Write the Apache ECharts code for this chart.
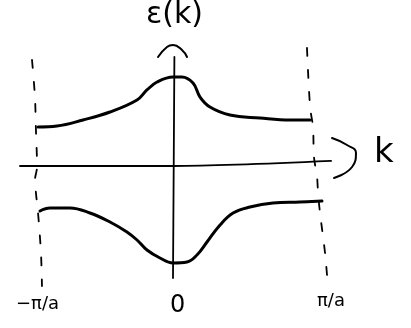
<!DOCTYPE html>
<html>
<head>
<meta charset="utf-8">
<script src="https://cdn.jsdelivr.net/npm/echarts@6/dist/echarts.min.js"></script>
<style>
  html, body { margin: 0; padding: 0; background: #fff; }
  #main { width: 411px; height: 328px; }
</style>
</head>
<body>
<div id="main"></div>
<script>
// band sketch, k in units of pi/a, energy in arbitrary units
var upperK = [-0.964, -0.829, -0.643, -0.45, -0.257, -0.186, -0.114, 0, 0.064, 0.143, 0.193, 0.264, 0.407, 0.621, 0.836, 0.979];
var upperE = [0.424, 0.435, 0.506, 0.60, 0.741, 0.859, 0.953, 1.012, 1.012, 0.941, 0.776, 0.659, 0.565, 0.529, 0.506, 0.506];

var lowerK = [-0.95, -0.879, -0.736, -0.593, -0.45, -0.329, -0.257, -0.186, -0.093, 0, 0.1, 0.171, 0.243, 0.336, 0.429, 0.55, 0.714, 0.907, 1.064];
var lowerE = [-0.565, -0.529, -0.529, -0.588, -0.694, -0.812, -0.906, -1.024, -1.118, -1.176, -1.165, -1.082, -0.929, -0.729, -0.588, -0.518, -0.471, -0.459, -0.447];

// hand drawn axes
var kAxisK = [-1.093, 0, 1.129];
var kAxisE = [-0.035, -0.035, 0.024];
var eAxisK = [0.01, 0];
var eAxisE = [1.247, -1.353];
var eArrowK = [-0.107, -0.043, 0, 0.064, 0.1];
var eArrowE = [1.247, 1.365, 1.388, 1.329, 1.247];
var kArrowK = [1.136, 1.243, 1.307, 1.279, 1.15];
var kArrowE = [0.294, 0.212, 0.118, -0.047, -0.176];

// zone boundaries
var leftBZK = [-1.007, -0.986, -0.979, -0.971, -0.986, -0.979, -0.964, -0.943, -0.936];
var leftBZE = [1.212, 0.776, 0.388, -0.047, -0.2, -0.353, -0.588, -1.059, -1.447];
var rightBZK = [0.957, 0.979, 1.0, 1.007, 1.029, 1.036, 1.05, 1.086, 1.107];
var rightBZE = [1.353, 0.659, 0.424, 0.071, -0.165, -0.353, -0.588, -1.059, -1.459];

var tickLabels = ['−π/a', '0', 'π/a'];

function pairs(xs, ys) {
  var out = [];
  for (var i = 0; i < xs.length; i++) {
    out.push([xs[i], ys[i]]);
  }
  return out;
}

function stroke(data, w, smooth, type) {
  return {
    type: 'line',
    data: data,
    symbol: 'none',
    smooth: smooth,
    silent: true,
    animation: false,
    lineStyle: { color: '#000', width: w, type: type || 'solid', cap: 'round', join: 'round' }
  };
}

var myChart = echarts.init(document.getElementById('main'));
var option = {
  backgroundColor: '#fff',
  grid: { left: 0, right: 0, top: 0, bottom: 0 },
  xAxis: { type: 'value', min: -173 / 140, max: 238 / 140, show: false },
  yAxis: { type: 'value', min: -165 / 85, max: 163 / 85, show: false },
  graphic: [
    { type: 'text', left: 146, top: 0, style: { text: 'ε(k)', font: '30px "DejaVu Sans"', fill: '#000' } },
    { type: 'text', left: 374, top: 136, style: { text: 'k', font: '34px "DejaVu Sans"', fill: '#000' } },
    { type: 'text', left: 16, top: 295, style: { text: tickLabels[0], font: '18px "DejaVu Sans"', fill: '#000' } },
    { type: 'text', left: 170, top: 294, style: { text: tickLabels[1], font: '24px "DejaVu Sans"', fill: '#000' } },
    { type: 'text', left: 317, top: 292, style: { text: tickLabels[2], font: '18px "DejaVu Sans"', fill: '#000' } }
  ],
  series: [
    stroke(pairs(upperK, upperE), 3, 0.4),
    stroke(pairs(lowerK, lowerE), 3, 0.4),
    stroke(pairs(kAxisK, kAxisE), 1.8, 0.3),
    stroke(pairs(eAxisK, eAxisE), 1.8, false),
    stroke(pairs(eArrowK, eArrowE), 2, 0.5),
    stroke(pairs(kArrowK, kArrowE), 2, 0.5),
    stroke(pairs(leftBZK, leftBZE), 1.8, 0.3, [8, 14]),
    stroke(pairs(rightBZK, rightBZE), 1.8, 0.3, [8, 14])
  ]
};
myChart.setOption(option);
</script>
</body>
</html>
